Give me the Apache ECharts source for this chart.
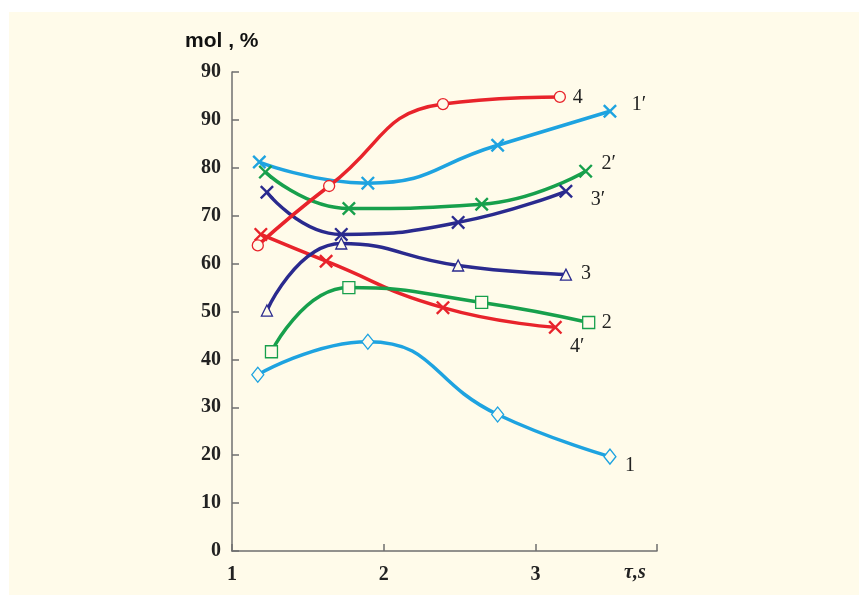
<!DOCTYPE html>
<html>
<head>
<meta charset="utf-8">
<script src="https://cdn.jsdelivr.net/npm/echarts@6/dist/echarts.min.js"></script>
<style>
html,body{margin:0;padding:0;background:#ffffff;}
#wrap{position:absolute;left:0;top:0;width:859px;height:595px;background:#ffffff;}
#chart{position:absolute;left:9px;top:12px;width:850px;height:583px;}
</style>
</head>
<body>
<div id="wrap"><div id="chart"></div></div>
<script>
// Data (x = τ, s ; y = mol %)
const yTickLabels = ['0','10','20','30','40','50','60','70','80','90','90'];
const xTickLabels = ['1','2','3'];

const s1x  = [1.17, 1.895, 2.75, 3.49];
const s1y  = [36.8, 43.7, 28.5, 19.7];
const s2x  = [1.26, 1.77, 2.645, 3.35];
const s2y  = [41.6, 55.0, 51.9, 47.7];
const s3x  = [1.23, 1.72, 2.49, 3.20];
const s3y  = [50.2, 64.2, 59.6, 57.7];
const s4x  = [1.17, 1.64, 2.39, 3.16];
const s4y  = [63.8, 76.2, 93.3, 94.8];
const s1px = [1.18, 1.895, 2.75, 3.49];
const s1py = [81.2, 76.8, 84.7, 91.8];
const s2px = [1.22, 1.77, 2.645, 3.33];
const s2py = [79.1, 71.5, 72.4, 79.3];
const s3px = [1.23, 1.72, 2.49, 3.20];
const s3py = [74.9, 66.1, 68.6, 75.1];
const s4px = [1.19, 1.62, 2.39, 3.13];
const s4py = [66.1, 60.5, 50.8, 46.7];

const cLightBlue = '#1ea3e0';
const cGreen = '#17a04c';
const cDarkBlue = '#2a2a8e';
const cRed = '#e8232b';
const crossPath = 'path://M0,1.2L1.2,0L5,3.8L8.8,0L10,1.2L6.2,5L10,8.8L8.8,10L5,6.2L1.2,10L0,8.8L3.8,5Z';
const fillBg = '#fffbea';

function mk(name, xs, ys, color, symbol, size, hollow, lbl, off) {
  const data = xs.map((x, i) => {
    const d = { value: [x, ys[i]] };
    if (i === xs.length - 1) {
      d.label = {
        show: true, formatter: lbl, position: 'inside', offset: off,
        color: '#222', fontFamily: 'Liberation Serif', fontSize: 20,
        align: 'center', verticalAlign: 'middle'
      };
    }
    return d;
  });
  return {
    name: name, type: 'line', smooth: 0.5, data: data,
    symbol: symbol, symbolSize: size, showSymbol: true,
    lineStyle: { color: color, width: 3.5 },
    itemStyle: hollow ? { color: fillBg, borderColor: color, borderWidth: 1.3 }
                      : { color: color, borderWidth: 0 },
    z: hollow ? 3 : 2,
    animation: false
  };
}

const chart = echarts.init(document.getElementById('chart'), null, { renderer: 'canvas' });
chart.setOption({
  backgroundColor: fillBg,
  animation: false,
  grid: { left: 223, top: 60, right: 202, bottom: 44 },
  xAxis: {
    type: 'value', min: 1, max: 3.8, interval: 1,
    axisLine: { lineStyle: { color: '#6f6f6f', width: 1.5 } },
    axisTick: { inside: true, length: 7, lineStyle: { color: '#6f6f6f', width: 1.5 } },
    splitLine: { show: false },
    axisLabel: {
      margin: 14, color: '#222', fontFamily: 'Liberation Serif', fontWeight: 'bold', fontSize: 20,
      formatter: function (v) { const i = Math.round(v) - 1; return (Math.abs(v - Math.round(v)) < 1e-6 && xTickLabels[i]) ? xTickLabels[i] : ''; }
    }
  },
  yAxis: {
    type: 'value', min: 0, max: 100, interval: 10,
    axisLine: { show: true, lineStyle: { color: '#6f6f6f', width: 1.5 } },
    axisTick: { show: true, inside: true, length: 7, lineStyle: { color: '#6f6f6f', width: 1.5 } },
    splitLine: { show: false },
    axisLabel: {
      margin: 11, color: '#222', fontFamily: 'Liberation Serif', fontWeight: 'bold', fontSize: 20,
      formatter: function (v) { return yTickLabels[Math.round(v / 10)] || ''; }
    }
  },
  graphic: [
    { type: 'text', left: 176, top: 19, style: { text: 'mol , %', fill: '#111', font: 'bold 21px "Liberation Sans", sans-serif' } },
    { type: 'text', left: 615, top: 551, style: { text: 'τ,s', fill: '#222', font: 'italic bold 20px "Liberation Serif", serif' } }
  ],
  series: [
    mk('1', s1x, s1y, cLightBlue, 'diamond', [12, 15], true, '1', [20, 9]),
    mk('2', s2x, s2y, cGreen, 'rect', 12, true, '2', [18, 0]),
    mk('3', s3x, s3y, cDarkBlue, 'triangle', 11, true, '3', [20, -1]),
    mk('4', s4x, s4y, cRed, 'circle', 11, true, '4', [18, 1]),
    mk("1'", s1px, s1py, cLightBlue, crossPath, 14, false, '1′', [29, -7]),
    mk("2'", s2px, s2py, cGreen, crossPath, 14, false, '2′', [23, -7]),
    mk("3'", s3px, s3py, cDarkBlue, crossPath, 14, false, '3′', [32, 8]),
    mk("4'", s4px, s4py, cRed, crossPath, 14, false, '4′', [22, 19])
  ]
});
</script>
</body>
</html>
